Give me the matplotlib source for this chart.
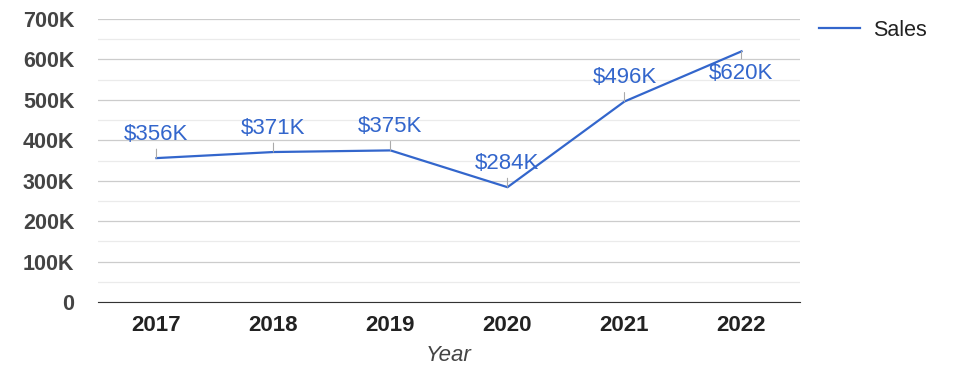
import matplotlib.pyplot as plt
from matplotlib.ticker import MultipleLocator, FuncFormatter

plt.rcParams['font.family'] = ['Liberation Sans', 'DejaVu Sans']

years = ['2017', '2018', '2019', '2020', '2021', '2022']
sales = [356, 371, 375, 284, 496, 620]  # thousands
label_below = [False, False, False, False, False, True]

fig = plt.figure(figsize=(9.75, 3.78), dpi=100)
ax = fig.add_axes([0.1005, 0.201, 0.72, 0.7487])

x = list(range(len(years)))
ax.plot(x, sales, color='#3366cc', lw=1.6, label='Sales', zorder=3)

for i, v in enumerate(sales):
    dy = -16 if label_below[i] else 17
    ax.annotate('$%dK' % v, xy=(i, v), xytext=(0, dy), textcoords='offset points',
                ha='center', va='center', fontsize=16, color='#3366cc',
                arrowprops=dict(arrowstyle='-', color='#aaaaaa', lw=0.8,
                                shrinkA=1, shrinkB=0), zorder=4)

ax.set_xlim(-0.5, 5.5)
ax.set_ylim(0, 700)
ax.yaxis.set_major_locator(MultipleLocator(100))
ax.yaxis.set_minor_locator(MultipleLocator(50))
ax.yaxis.set_major_formatter(FuncFormatter(lambda v, p: '0' if v == 0 else '%dK' % v))
ax.set_xticks(x)
ax.set_xticklabels(years)

ax.grid(axis='y', which='major', color='#cccccc', lw=0.9)
ax.grid(axis='y', which='minor', color='#ebebeb', lw=0.9)
ax.set_axisbelow(True)
for s in ['top', 'right', 'left']:
    ax.spines[s].set_visible(False)
ax.spines['bottom'].set_color('#333333')
ax.tick_params(which='both', length=0)
ax.tick_params(axis='y', pad=17, labelsize=15.5, labelcolor='#444444')
ax.tick_params(axis='x', pad=9, labelsize=16, labelcolor='#222222')
for t in ax.get_xticklabels() + ax.get_yticklabels():
    t.set_fontweight('bold')

ax.set_xlabel('Year', fontsize=16, style='italic', color='#444444', labelpad=7)

ax.legend(loc='upper left', bbox_to_anchor=(1.0, 1.065), frameon=False,
          fontsize=15.5, handlelength=1.9, handletextpad=0.6, labelcolor='#222222')

fig.savefig('out.png', dpi=100)
